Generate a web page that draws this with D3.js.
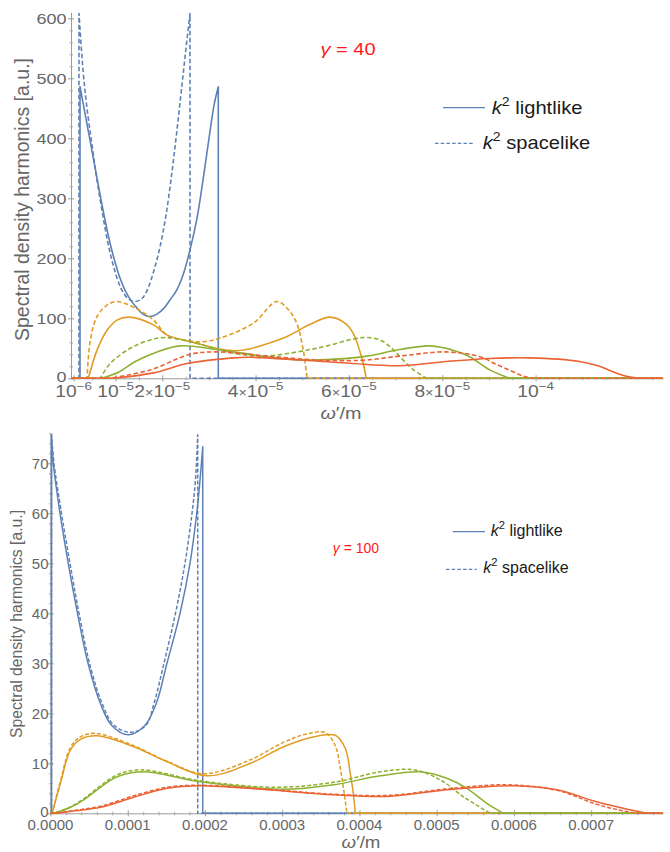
<!DOCTYPE html>
<html><head><meta charset="utf-8">
<script src="https://cdn.jsdelivr.net/npm/d3@7"></script>
<style>body{margin:0;background:#fff}svg{display:block}</style>
</head><body>
<svg id="c" width="670" height="852"></svg>
<script>
// ---------------- DATA: gamma = 40 (top) ----------------
const g40_blue_light_x = [0.238e-5,0.452e-5,0.666e-5,0.774e-5,0.881e-5,0.988e-5,1.095e-5,1.202e-5,1.310e-5,1.460e-5,1.588e-5,1.738e-5,1.888e-5,2.038e-5,2.166e-5,2.310e-5,2.445e-5,2.595e-5,2.745e-5,2.873e-5,3.002e-5,3.109e-5,3.201e-5];
const g40_blue_light_y = [486,397,307,264,225.5,194,167,147,132,117,107,103,107,117,130.5,147,172,214,267,330,400,455,486];
const g40_blue_space_x = [0.216e-5,0.302e-5,0.388e-5,0.495e-5,0.602e-5,0.709e-5,0.838e-5,0.966e-5,1.116e-5,1.266e-5,1.416e-5,1.566e-5,1.695e-5,1.823e-5,1.952e-5,2.081e-5,2.209e-5,2.316e-5,2.423e-5,2.509e-5,2.595e-5];
const g40_blue_space_y = [608,514,450,389,330,280,225,184,150,133,128,133,150,180,219,272,344,414,489,550,608];
const g40_orange_light_x = [0.417e-5,0.603e-5,0.817e-5,1.031e-5,1.279e-5,1.814e-5,2.107e-5,2.556e-5,3.583e-5,4.595e-5,5.166e-5,5.594e-5,5.914e-5,6.092e-5,6.235e-5,6.321e-5,6.370e-5];
const g40_orange_light_y = [0,47,80,97,102,89,72,62,46,67,90,102,92,75,45,20,0];
const g40_orange_space_x = [0.389e-5,0.460e-5,0.603e-5,0.817e-5,1.031e-5,1.422e-5,1.814e-5,2.107e-5,2.599e-5,2.883e-5,3.241e-5,3.953e-5,4.453e-5,4.695e-5,4.881e-5,5.022e-5,5.102e-5];
const g40_orange_space_y = [0,64,103,122,128,117,97,72,62,61,67,92,128,115,92,47,0];
const g40_green_light_x = [0.710e-5,1.059e-5,1.422e-5,1.887e-5,2.385e-5,3.170e-5,4.240e-5,4.952e-5,5.701e-5,6.379e-5,7.091e-5,7.733e-5,8.267e-5,8.588e-5,9.016e-5,9.444e-5];
const g40_green_light_y = [0,10,28,44,54,48,36,30.5,32,37,48,54,46,36,14,0];
const g40_green_space_x = [0.674e-5,0.888e-5,1.316e-5,1.743e-5,2.064e-5,2.599e-5,3.525e-5,4.167e-5,5.309e-5,6.306e-5,6.663e-5,6.877e-5,7.091e-5,7.369e-5,7.662e-5];
const g40_green_space_y = [0,25,50,64,68,61,42,37,50,68,64,53,36,15,0];
const g40_red_light_x = [0.952e-5,1.814e-5,2.556e-5,3.525e-5,3.882e-5,4.952e-5,6.021e-5,7.091e-5,8.090e-5,9.016e-5,9.872e-5,10.941e-5,11.37e-5,11.654e-5,11.97e-5,12.295e-5];
const g40_red_light_y = [0,9,25,34,35,30.5,25,21,28,33,34,28,20,11,3,0];
const g40_red_space_x = [0.888e-5,1.743e-5,2.599e-5,3.170e-5,4.240e-5,5.309e-5,5.85e-5,6.379e-5,7.091e-5,8.090e-5,8.802e-5,9.166e-5,9.514e-5,9.764e-5,9.942e-5];
const g40_red_space_y = [0,14,40,44,37,30.5,29.5,30.5,37,44,36,23,11,3,0];
const g40_xTicks = [1e-6,1e-5,2e-5,4e-5,6e-5,8e-5,1e-4];
const g40_xTickLabels = ["10^-6","10^-5","2×10^-5","4×10^-5","6×10^-5","8×10^-5","10^-4"];
const g40_yTicks = [0,100,200,300,400,500,600];

// ---------------- DATA: gamma = 100 (bottom) ----------------
const g100_blue_light_x = [0.013e-4,0.036e-4,0.123e-4,0.230e-4,0.350e-4,0.486e-4,0.645e-4,0.796e-4,1.007e-4,1.218e-4,1.370e-4,1.508e-4,1.677e-4,1.806e-4,1.893e-4,1.936e-4,1.971e-4];
const g100_blue_light_y = [75.7,70,60,50,40,30,22,17.5,15.7,17.5,22,30,40,50,60,66.7,73.3];
const g100_blue_space_x = [0.013e-4,0.045e-4,0.142e-4,0.252e-4,0.369e-4,0.505e-4,0.667e-4,0.822e-4,1.042e-4,1.236e-4,1.340e-4,1.469e-4,1.618e-4,1.741e-4,1.832e-4,1.877e-4,1.906e-4];
const g100_blue_space_y = [75.7,70,60,50,40,30,22,17.6,16.2,17.6,22,30,40,50,60,66.7,75.7];
const g100_orange_light_x = [0.022e-4,0.129e-4,0.259e-4,0.388e-4,0.604e-4,1.078e-4,1.510e-4,2.027e-4,2.587e-4,3.018e-4,3.385e-4,3.687e-4,3.816e-4,3.881e-4,3.920e-4,3.946e-4];
const g100_orange_light_y = [0,6,12.7,14.8,15.5,13.3,10.3,7.5,10.0,13.3,15.2,15.6,13,8,4,0];
const g100_orange_space_x = [0.022e-4,0.129e-4,0.259e-4,0.388e-4,0.582e-4,1.078e-4,1.510e-4,1.983e-4,2.587e-4,3.018e-4,3.299e-4,3.558e-4,3.687e-4,3.752e-4,3.803e-4,3.838e-4];
const g100_orange_space_y = [0,6.5,13.2,15.3,16.0,13.5,10.4,7.9,10.7,14.2,15.8,16.1,13.5,9,4,0];
const g100_green_light_x = [0.039e-4,0.233e-4,0.431e-4,0.647e-4,0.863e-4,1.207e-4,1.940e-4,3.018e-4,3.665e-4,4.269e-4,4.786e-4,5.132e-4,5.391e-4,5.649e-4,5.864e-4];
const g100_green_light_y = [0,1.0,2.7,5.2,7.3,8.3,6.3,4.8,5.7,7.5,8.3,7.0,5.0,2.0,0];
const g100_green_space_x = [0.039e-4,0.233e-4,0.431e-4,0.647e-4,0.863e-4,1.164e-4,1.940e-4,2.933e-4,3.665e-4,4.269e-4,4.700e-4,5.045e-4,5.347e-4,5.692e-4];
const g100_green_space_y = [0,1.1,2.9,5.5,7.7,8.7,6.5,5.2,6.2,8.3,8.7,6.7,3.3,0];
const g100_red_light_x = [0.065e-4,0.323e-4,0.647e-4,1.078e-4,1.510e-4,1.940e-4,2.803e-4,3.665e-4,4.398e-4,5.132e-4,5.994e-4,6.555e-4,7.072e-4,7.503e-4,7.719e-4];
const g100_red_light_y = [0,0.5,1.2,3.2,5.0,5.5,4.7,3.7,3.4,4.7,5.5,4.7,2.3,0.7,0];
const g100_red_space_x = [0.065e-4,0.323e-4,0.647e-4,1.078e-4,1.510e-4,1.940e-4,2.803e-4,3.665e-4,4.398e-4,5.132e-4,5.908e-4,6.555e-4,7.072e-4,7.439e-4,7.611e-4];
const g100_red_space_y = [0,0.6,1.4,3.5,5.2,5.6,4.8,3.8,3.6,4.9,5.7,4.6,1.8,0.4,0];
const g100_xTicks = [0,1e-4,2e-4,3e-4,4e-4,5e-4,6e-4,7e-4];
const g100_xTickLabels = ["0.0000","0.0001","0.0002","0.0003","0.0004","0.0005","0.0006","0.0007"];
const g100_yTicks = [0,10,20,30,40,50,60,70];

const legendLabels = ["lightlike","spacelike"];
const gammaLabels = ["40","100"];

// ---------------- DRAWING ----------------
const COL = {blue:'#5E81B5', orange:'#E19C24', green:'#8FB131', red:'#EB6235'};
const FONT = 'Liberation Sans, Arial, Helvetica, sans-serif';
const svg = d3.select('#c');

function addText(g, x, y, parts, o){
  let tr = `translate(${x},${y})`;
  if (o.rot) tr += ` rotate(${o.rot})`;
  if (o.sx && o.sx !== 1) tr += ` scale(${o.sx},1)`;
  const t = g.append('text').attr('transform', tr)
    .attr('text-anchor', o.anchor || 'start')
    .attr('font-family', FONT).attr('font-size', o.size)
    .attr('fill', o.fill || '#666');
  if (o.len) t.attr('textLength', o.len).attr('lengthAdjust', 'spacingAndGlyphs');
  let shift = 0;
  parts.forEach(p => {
    const s = t.append('tspan').text(p.t);
    if (p.it) s.attr('font-style', 'italic');
    if (p.sup) { s.attr('font-size', o.size*0.7).attr('dy', -o.size*0.42); shift = o.size*0.42; }
    else {
      if (shift) { s.attr('dy', shift); shift = 0; }
      if (p.sm) s.attr('font-size', o.size*p.sm);
    }
  });
  return t;
}
function parseLabel(s){
  if (s.indexOf('^') < 0) return [{t:s}];
  const [base, ex] = s.split('^');
  const parts = [];
  if (base.indexOf('×') >= 0) {
    const [m, b] = base.split('×');
    parts.push({t:m}); parts.push({t:'×', sm:0.75}); parts.push({t:b});
  } else parts.push({t:base});
  parts.push({t:ex.replace('-', '\u2212'), sup:true});
  return parts;
}

function seriesPath(x, y, xs, ys, xd){
  const pts = xs.map((v,i)=>[x(v), y(ys[i])]);
  const line = d3.line().curve(d3.curveCatmullRom.alpha(0.5));
  const y0 = y(0);
  const first = pts[0], last = pts[pts.length-1];
  let d = `M${x(xd[0])},${y0}L${first[0]},${y0}`;
  if (ys[0] !== 0) d += `L${first[0]},${first[1]}`;
  d += line(pts).replace(/^M/, 'L');
  if (ys[ys.length-1] !== 0) d += `L${last[0]},${y0}`;
  d += `L${x(xd[1])},${y0}`;
  return d;
}

function panel(c){
  const x = d3.scaleLinear().domain(c.xd).range(c.xr);
  const y = d3.scaleLinear().domain(c.yd).range(c.yr);
  const g = svg.append('g');
  const cid = 'clip' + c.id;
  g.append('clipPath').attr('id', cid).append('rect')
    .attr('x', c.xr[0]-2).attr('y', c.yr[1]-2)
    .attr('width', c.xr[1]-c.xr[0]+4).attr('height', c.yr[0]-c.yr[1]+3);

  const ax = g.append('g').attr('transform', `translate(0,${y(0)})`)
    .call(d3.axisBottom(x).tickValues(c.xTicks).tickFormat('').tickSizeOuter(0));
  ax.select('.domain').attr('stroke', '#9a9a9a').attr('stroke-width', 1);
  ax.selectAll('.tick line').attr('y1', -3).attr('y2', 3).attr('stroke', '#9a9a9a');
  const axm = g.append('g').attr('transform', `translate(0,${y(0)})`)
    .call(d3.axisBottom(x).tickValues(c.xMinor).tickFormat('').tickSizeOuter(0));
  axm.select('.domain').remove();
  axm.selectAll('.tick line').attr('y1', -1.5).attr('y2', 2).attr('stroke', '#a8a8a8');

  const ay = g.append('g').attr('transform', `translate(${c.xr[0]},0)`)
    .call(d3.axisLeft(y).tickValues(c.yTicks).tickFormat('').tickSizeOuter(0));
  ay.select('.domain').attr('stroke', '#9a9a9a').attr('stroke-width', 1);
  ay.selectAll('.tick line').attr('x1', -3).attr('x2', 3).attr('stroke', '#9a9a9a');
  const aym = g.append('g').attr('transform', `translate(${c.xr[0]},0)`)
    .call(d3.axisLeft(y).tickValues(c.yMinor).tickFormat('').tickSizeOuter(0));
  aym.select('.domain').remove();
  aym.selectAll('.tick line').attr('x1', -1.5).attr('x2', 2).attr('stroke', '#a8a8a8');

  const sg = g.append('g').attr('clip-path', `url(#${cid})`);
  c.series.forEach(s => {
    sg.append('path').attr('d', seriesPath(x, y, s.x, s.y, c.xd))
      .attr('fill', 'none').attr('stroke', s.color).attr('stroke-width', c.lw)
      .attr('stroke-linejoin', 'round')
      .attr('stroke-dasharray', s.dash ? c.dash : null);
  });

  c.yTicks.forEach(v => addText(g, c.yLabX, y(v)+c.yLabDy - (v === 0 ? 1.5 : 0), [{t:String(v)}],
    {size:c.tickSize, anchor:'end', sx:c.sx}));
  c.xTicks.forEach((v,i) => addText(g, x(v), c.xLabY, parseLabel(c.xTickLabels[i]),
    {size:c.xTickSize, anchor:'middle', sx:c.sx}));

  addText(g, c.xTitle[0], c.xTitle[1], [{t:'ω', it:true},{t:'′/m'}],
    {size:c.xTitle[2], anchor:'middle', sx:c.xTitle[3]});
  addText(g, c.yTitle[0], c.yTitle[1], [{t:'Spectral density harmonics [a.u.]'}],
    {size:c.yTitle[2], anchor:'middle', rot:-90, len:c.yTitle[3]});

  addText(g, c.gamma[0], c.gamma[1], [{t:'γ', it:true},{t:' = ' + c.gammaText}],
    {size:c.gamma[2], anchor:'middle', sx:c.gamma[3], fill:'#FF1A1A'});

  c.legend.forEach((L, i) => {
    g.append('line').attr('x1', L.x1).attr('x2', L.x2).attr('y1', L.ly).attr('y2', L.ly)
      .attr('stroke', COL.blue).attr('stroke-width', 1.3)
      .attr('stroke-dasharray', i === 1 ? '3.5,2.2' : null);
    addText(g, L.tx, L.ty, [{t:'k', it:true},{t:'2', sup:true},{t:' ' + legendLabels[i]}],
      {size:c.legSize, sx:c.legSx, fill:'#1a1a1a'});
  });
}

function minors(lo, hi, step, majorStep){
  return d3.range(lo, hi + step/2, step).filter(v => Math.abs(v/majorStep - Math.round(v/majorStep)) > 1e-6);
}

panel({
  id: 'top', xd: [4.5e-7, 1.273e-4], xr: [71, 663], yd: [0, 610], yr: [378.3, 12.3],
  xTicks: g40_xTicks, xTickLabels: g40_xTickLabels,
  xMinor: minors(5e-6, 1.25e-4, 5e-6, 2e-5).filter(v => Math.abs(v-1e-5) > 1e-9 && Math.abs(v-1e-4) > 1e-9),
  yTicks: g40_yTicks, yMinor: minors(20, 600, 20, 100),
  lw: 1.6, dash: '4.5,2.5', sx: 1.2, tickSize: 15, xTickSize: 16,
  yLabX: 66.5, yLabDy: 5.4, xLabY: 397,
  xTitle: [341, 418.5, 16.5, 1.2], yTitle: [28.5, 199.5, 19.5, 283],
  gamma: [348, 55, 16, 1.25], gammaText: gammaLabels[0],
  legSize: 18, legSx: 1.12,
  legend: [{x1:443, x2:485, ly:107.7, tx:491.7, ty:113.5},
           {x1:435, x2:474, ly:143.3, tx:482.7, ty:148.5}],
  series: [
    {x:g40_blue_light_x, y:g40_blue_light_y, color:COL.blue},
    {x:g40_blue_space_x, y:g40_blue_space_y, color:COL.blue, dash:true},
    {x:g40_orange_light_x, y:g40_orange_light_y, color:COL.orange},
    {x:g40_orange_space_x, y:g40_orange_space_y, color:COL.orange, dash:true},
    {x:g40_green_light_x, y:g40_green_light_y, color:COL.green},
    {x:g40_green_space_x, y:g40_green_space_y, color:COL.green, dash:true},
    {x:g40_red_light_x, y:g40_red_light_y, color:COL.red},
    {x:g40_red_space_x, y:g40_red_space_y, color:COL.red, dash:true}
  ]
});

panel({
  id: 'bot', xd: [0, 7.93e-4], xr: [50.5, 663], yd: [0, 76], yr: [813.3, 433.3],
  xTicks: g100_xTicks, xTickLabels: g100_xTickLabels,
  xMinor: minors(2e-5, 7.8e-4, 2e-5, 1e-4),
  yTicks: g100_yTicks, yMinor: minors(2, 76, 2, 10),
  lw: 1.5, dash: '4,2', sx: 1, tickSize: 15, xTickSize: 15,
  yLabX: 48.5, yLabDy: 5.2, xLabY: 830,
  xTitle: [361, 847.5, 17, 1.1], yTitle: [22, 624, 16, 228],
  gamma: [356, 553, 14, 1], gammaText: gammaLabels[1],
  legSize: 16, legSx: 1,
  legend: [{x1:452.7, x2:485, ly:531.7, tx:490.7, ty:535.5},
           {x1:446, x2:476.7, ly:569.3, tx:483.3, ty:573}],
  series: [
    {x:g100_blue_light_x, y:g100_blue_light_y, color:COL.blue},
    {x:g100_blue_space_x, y:g100_blue_space_y, color:COL.blue, dash:true},
    {x:g100_orange_light_x, y:g100_orange_light_y, color:COL.orange},
    {x:g100_orange_space_x, y:g100_orange_space_y, color:COL.orange, dash:true},
    {x:g100_green_light_x, y:g100_green_light_y, color:COL.green},
    {x:g100_green_space_x, y:g100_green_space_y, color:COL.green, dash:true},
    {x:g100_red_light_x, y:g100_red_light_y, color:COL.red},
    {x:g100_red_space_x, y:g100_red_space_y, color:COL.red, dash:true}
  ]
});
</script>
</body></html>
